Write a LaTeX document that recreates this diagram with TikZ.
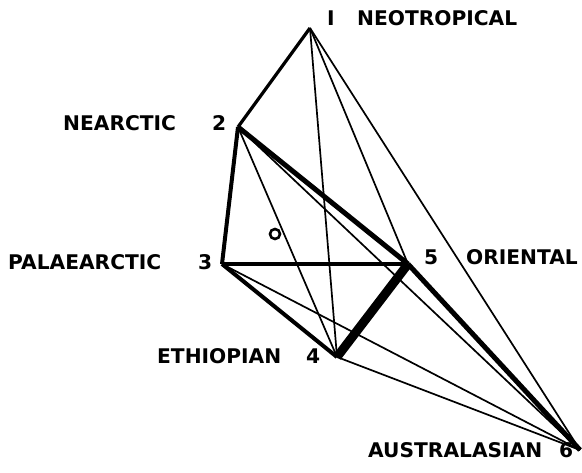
\documentclass[tikz,border=0pt]{standalone}
\usepackage{fontspec}
\setmainfont{DejaVu Sans}
\begin{document}
\begin{tikzpicture}[x=1pt,y=-1pt,
  lab/.style={anchor=base west,inner sep=0pt,font=\bfseries\fontsize{20.2}{24}\selectfont},
  thin/.style={line width=1.7pt},
  med/.style={line width=3.2pt},
  thk/.style={line width=4pt},
  thkr/.style={line width=5pt},
  heavy/.style={line width=9pt}]
\useasboundingbox (0,0) rectangle (582,473);
\coordinate (n1) at (310,28);
\coordinate (n2) at (238,127);
\coordinate (n3) at (222,264);
\coordinate (n4) at (337,357);
\coordinate (n5) at (408,264);
\coordinate (n6) at (580,450);
% thin connectors
\draw[thin] (n1) -- (n4);
\draw[thin] (n1) -- (n5);
\draw[thin] (n1) -- (n6);
\draw[thin] (n2) -- (n4);
\draw[thin] (n2) -- (n6);
\draw[thin] (n3) -- (n6);
\draw[thin] (n4) -- (n6);
% heavier connectors
\draw[med] (n1) -- (n2);
\draw[med] (n3) -- (n5);
\draw[thk] (n2) -- (n3);
\draw[thk] (n3) -- (n4);
\draw[thkr] (n2) -- (n5);
\draw[thkr] (n5) -- (n6);
\draw[heavy] (n4) -- (n5);
% small circle
\draw[line width=2.6pt] (275,234) circle (5);
% labels
\node[lab] (l1) at (327,26) {I};
\node[lab] (t1) at (357,26) {NEOTROPICAL};
\node[lab] (t2) at (63,131) {NEARCTIC};
\node[lab] (l2) at (212,131) {2};
\node[lab] (t3) at (8,270) {PALAEARCTIC};
\node[lab] (l3) at (198,270) {3};
\node[lab] (l5) at (424,265) {5};
\node[lab] (t5) at (466,265) {ORIENTAL};
\node[lab] (t4) at (157,364) {ETHIOPIAN};
\node[lab] (l4) at (306,364) {4};
\node[lab] (t6) at (368,458) {AUSTRALASIAN};
\node[lab] (l6) at (559,458) {6};
\end{tikzpicture}
\end{document}
